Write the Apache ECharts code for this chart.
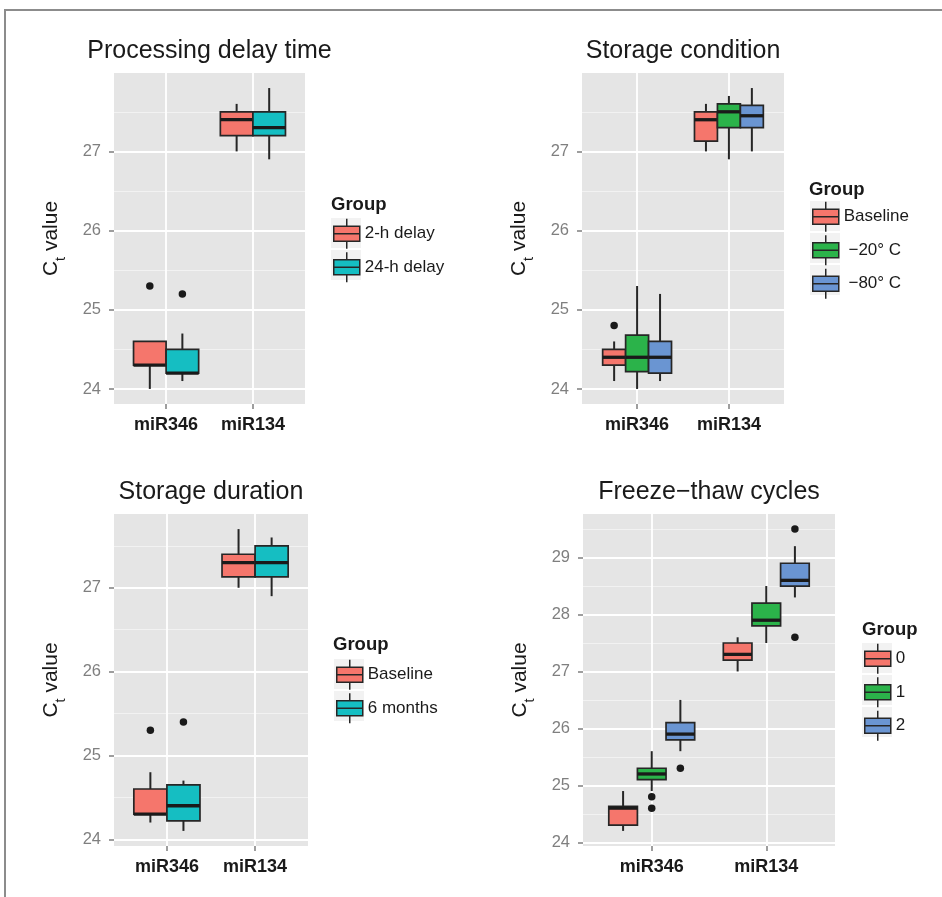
<!DOCTYPE html>
<html><head><meta charset="utf-8">
<script src="https://cdn.jsdelivr.net/npm/echarts@6/dist/echarts.min.js"></script>
<style>html,body{margin:0;padding:0;background:#fff}#c{width:942px;height:897px}</style>
</head><body><div id="c"></div>
<script>
// ---------- DATA ----------
const categories = ['miR346', 'miR134'];
const panelTitles = ['Processing delay time', 'Storage condition', 'Storage duration', 'Freeze\u2212thaw cycles'];
const legendTitle = 'Group';
const yAxisLabel = '{c|C}{t|t}{c| value}';

// y tick labels
const yTicksA = [24, 25, 26, 27];
const yMinorA = [24.5, 25.5, 26.5, 27.5];
const yTicksB = [24, 25, 26, 27, 28, 29];
const yMinorB = [24.5, 25.5, 26.5, 27.5, 28.5, 29.5];

// box stats per category: [lower whisker, Q1, median, Q3, upper whisker]
// outliers: [category index, value]
// Panel 1: Processing delay time
const delayNames = ['2-h delay', '24-h delay'];
const delay2h = [[24.0, 24.3, 24.3, 24.6, 24.6], [27.0, 27.2, 27.4, 27.5, 27.6]];
const delay2hOut = [[0, 25.3]];
const delay24h = [[24.1, 24.2, 24.2, 24.5, 24.7], [26.9, 27.2, 27.3, 27.5, 27.8]];
const delay24hOut = [[0, 25.2]];

// Panel 2: Storage condition
const condNames = ['Baseline', ' \u221220\u00b0 C', ' \u221280\u00b0 C'];
const condBase = [[24.1, 24.3, 24.4, 24.5, 24.6], [27.0, 27.13, 27.4, 27.5, 27.6]];
const condBaseOut = [[0, 24.8]];
const cond20 = [[24.0, 24.22, 24.4, 24.68, 25.3], [26.9, 27.3, 27.5, 27.6, 27.7]];
const cond20Out = [];
const cond80 = [[24.1, 24.2, 24.4, 24.6, 25.2], [27.0, 27.3, 27.45, 27.58, 27.8]];
const cond80Out = [];

// Panel 3: Storage duration
const durNames = ['Baseline', '6 months'];
const durBase = [[24.2, 24.3, 24.3, 24.6, 24.8], [27.0, 27.13, 27.3, 27.4, 27.7]];
const durBaseOut = [[0, 25.3]];
const dur6m = [[24.1, 24.22, 24.4, 24.65, 24.7], [26.9, 27.13, 27.3, 27.5, 27.6]];
const dur6mOut = [[0, 25.4]];

// Panel 4: Freeze-thaw cycles
const ftNames = ['0', '1', '2'];
const ft0 = [[24.2, 24.3, 24.6, 24.63, 24.9], [27.0, 27.2, 27.3, 27.5, 27.6]];
const ft0Out = [];
const ft1 = [[24.9, 25.1, 25.2, 25.3, 25.6], [27.5, 27.8, 27.9, 28.2, 28.5]];
const ft1Out = [[0, 24.8], [0, 24.6]];
const ft2 = [[25.6, 25.8, 25.9, 26.1, 26.5], [28.3, 28.5, 28.6, 28.9, 29.2]];
const ft2Out = [[0, 25.3], [1, 29.5], [1, 27.6]];

// ---------- STYLE / LAYOUT ----------
const FONT = '"Liberation Sans", Arial, Helvetica, sans-serif';
const RED = '#F5766C', TEAL = '#15BEC2', GREEN = '#2BB34A', BLUE = '#6A95D2';
const INK = '#262626';

const panels = [
  { grid: { left: 114, top: 73, width: 191, height: 331 }, leg: { left: 333, top: 218 }, gt: { left: 331, top: 195 },
    ticks: yTicksA, minor: yMinorA,
    groups: [
      { name: delayNames[0], color: RED, stats: delay2h, out: delay2hOut },
      { name: delayNames[1], color: TEAL, stats: delay24h, out: delay24hOut }] },
  { grid: { left: 582, top: 73, width: 202, height: 331 }, leg: { left: 812, top: 201 }, gt: { left: 809, top: 180 },
    ticks: yTicksA, minor: yMinorA,
    groups: [
      { name: condNames[0], color: RED, stats: condBase, out: condBaseOut },
      { name: condNames[1], color: GREEN, stats: cond20, out: cond20Out },
      { name: condNames[2], color: BLUE, stats: cond80, out: cond80Out }] },
  { grid: { left: 114, top: 514, width: 194, height: 332 }, leg: { left: 336, top: 659 }, gt: { left: 333, top: 635 },
    ticks: yTicksA, minor: yMinorA,
    groups: [
      { name: durNames[0], color: RED, stats: durBase, out: durBaseOut },
      { name: durNames[1], color: TEAL, stats: dur6m, out: dur6mOut }] },
  { grid: { left: 583, top: 514, width: 252, height: 332 }, leg: { left: 864, top: 643 }, gt: { left: 862, top: 620 },
    ticks: yTicksB, minor: yMinorB,
    groups: [
      { name: ftNames[0], color: RED, stats: ft0, out: ft0Out },
      { name: ftNames[1], color: GREEN, stats: ft1, out: ft1Out },
      { name: ftNames[2], color: BLUE, stats: ft2, out: ft2Out }] }
];

const LEG_W = 26, LEG_H = 30, LEG_GAP = 2;
const DODGE = 0.75;

function makeRender(color, halfW) {
  return function (params, api) {
    const x = api.value(0);
    const lo = api.value(1), q1 = api.value(2), med = api.value(3), q3 = api.value(4), hi = api.value(5);
    const tl = api.coord([x - halfW, q3]);
    const br = api.coord([x + halfW, q1]);
    const cHi = api.coord([x, hi]), cQ3 = api.coord([x, q3]), cQ1 = api.coord([x, q1]), cLo = api.coord([x, lo]);
    const mL = api.coord([x - halfW, med]), mR = api.coord([x + halfW, med]);
    return {
      type: 'group',
      children: [
        { type: 'line', shape: { x1: cHi[0], y1: cHi[1], x2: cQ3[0], y2: cQ3[1] }, style: { stroke: INK, lineWidth: 2 } },
        { type: 'line', shape: { x1: cQ1[0], y1: cQ1[1], x2: cLo[0], y2: cLo[1] }, style: { stroke: INK, lineWidth: 2 } },
        { type: 'rect', shape: { x: tl[0], y: tl[1], width: br[0] - tl[0], height: br[1] - tl[1] },
          style: { fill: color, stroke: INK, lineWidth: 1.7 } },
        { type: 'line', shape: { x1: mL[0], y1: mL[1], x2: mR[0], y2: mR[1] }, style: { stroke: '#1a1a1a', lineWidth: 3.3 } }
      ]
    };
  };
}

const grid = [], xAxis = [], yAxis = [], series = [], legend = [], title = [], graphic = [];

graphic.push({ type: 'rect', shape: { x: 5, y: 10, width: 1200, height: 1200 },
  style: { fill: 'none', stroke: '#8c8c8c', lineWidth: 2 }, z: 0, silent: true });

panels.forEach(function (p, i) {
  grid.push(Object.assign({ show: true, backgroundColor: '#E5E5E5', borderWidth: 0, outerBoundsMode: 'none', containLabel: false }, p.grid));

  // y range (ggplot-like 5% expansion of data range)
  let vals = [];
  p.groups.forEach(g => { g.stats.forEach(s => vals = vals.concat(s)); g.out.forEach(o => vals.push(o[1])); });
  const vmin = Math.min.apply(null, vals), vmax = Math.max.apply(null, vals);
  const pad = (vmax - vmin) * 0.05;
  const ymin = vmin - pad, ymax = vmax + pad;

  const catPos = categories.map((c, k) => k + 1);
  xAxis.push({
    gridIndex: i, type: 'value', min: 0.4, max: categories.length + 0.6,
    axisLine: { show: false },
    axisTick: { show: true, length: 5, customValues: catPos, lineStyle: { color: '#7f7f7f', width: 1.5 } },
    axisLabel: { show: true, customValues: catPos, formatter: v => categories[Math.round(v) - 1], margin: 12,
      fontFamily: FONT, fontSize: 18, fontWeight: 'bold', color: '#1a1a1a' },
    splitLine: { show: true, lineStyle: { color: '#ffffff', width: 1.8 } }
  });
  yAxis.push({
    gridIndex: i, type: 'value', min: ymin, max: ymax,
    axisLine: { show: false },
    axisTick: { show: true, length: 5, customValues: p.ticks, lineStyle: { color: '#7f7f7f', width: 1.5 } },
    axisLabel: { show: true, customValues: p.ticks, margin: 13, fontFamily: FONT, fontSize: 16.5, color: '#7f7f7f' },
    splitLine: { show: true, lineStyle: { color: '#ffffff', width: 1.8 } },
    name: yAxisLabel, nameLocation: 'middle', nameGap: 46, nameRotate: 90,
    nameTextStyle: { fontFamily: FONT, fontSize: 21, color: '#1a1a1a',
      rich: { c: { fontFamily: FONT, fontSize: 21, color: '#1a1a1a' },
              t: { fontFamily: FONT, fontSize: 14.5, color: '#1a1a1a', padding: [18, 0, 0, 0] } } }
  });
  yAxis.push({
    gridIndex: i, type: 'value', min: ymin, max: ymax,
    axisLine: { show: false },
    axisTick: { show: false, customValues: p.minor },
    axisLabel: { show: false },
    splitLine: { show: true, lineStyle: { color: '#F2F2F2', width: 1 } }
  });

  const n = p.groups.length;
  const w = DODGE / n;
  p.groups.forEach(function (g, gi) {
    const off = -DODGE / 2 + w * (gi + 0.5);
    series.push({
      type: 'custom', name: g.name, xAxisIndex: i, yAxisIndex: 2 * i, silent: true, z: 3,
      renderItem: makeRender(g.color, w / 2),
      encode: { x: 0, y: [1, 2, 3, 4, 5] },
      itemStyle: { color: g.color, borderColor: INK, borderWidth: 1.5 },
      data: g.stats.map((s, ci) => [ci + 1 + off].concat(s))
    });
    if (g.out.length) {
      series.push({
        type: 'scatter', name: 'outliers ' + i + '-' + gi, xAxisIndex: i, yAxisIndex: 2 * i, silent: true, z: 4,
        symbolSize: 7.5, itemStyle: { color: '#1a1a1a', opacity: 1 },
        data: g.out.map(o => [o[0] + 1 + off, o[1]])
      });
    }
    graphic.push({ type: 'rect', silent: true, z: 1,
      shape: { x: p.leg.left - 2, y: p.leg.top + gi * (LEG_H + LEG_GAP), width: LEG_W + 4, height: LEG_H },
      style: { fill: '#F2F2F2' } });
  });

  legend.push({
    orient: 'vertical', left: p.leg.left, top: p.leg.top, padding: 0,
    itemWidth: LEG_W, itemHeight: LEG_H, itemGap: LEG_GAP, selectedMode: false, z: 10,
    icon: 'path://M0,7.5 L26,7.5 L26,22.5 L0,22.5 Z M0,15 L26,15 M13,0 L13,7.5 M13,22.5 L13,30',
    itemStyle: { borderColor: INK, borderWidth: 1.5 },
    data: p.groups.map(g => g.name),
    textStyle: { fontFamily: FONT, fontSize: 17, color: '#1a1a1a' }
  });

  title.push({
    text: panelTitles[i], left: p.grid.left + p.grid.width / 2, top: p.grid.top - 34, textAlign: 'center', padding: 0,
    textStyle: { fontFamily: FONT, fontSize: 25, fontWeight: 'normal', color: '#1a1a1a' }
  });
  title.push({
    text: legendTitle, left: p.gt.left, top: p.gt.top, padding: 0,
    textStyle: { fontFamily: FONT, fontSize: 18.5, fontWeight: 'bold', color: '#1a1a1a' }
  });
});

const chart = echarts.init(document.getElementById('c'), null, { renderer: 'canvas' });
chart.setOption({
  animation: false,
  backgroundColor: '#ffffff',
  title: title,
  grid: grid,
  xAxis: xAxis,
  yAxis: yAxis,
  legend: legend,
  graphic: graphic,
  series: series
});
</script>
</body></html>
